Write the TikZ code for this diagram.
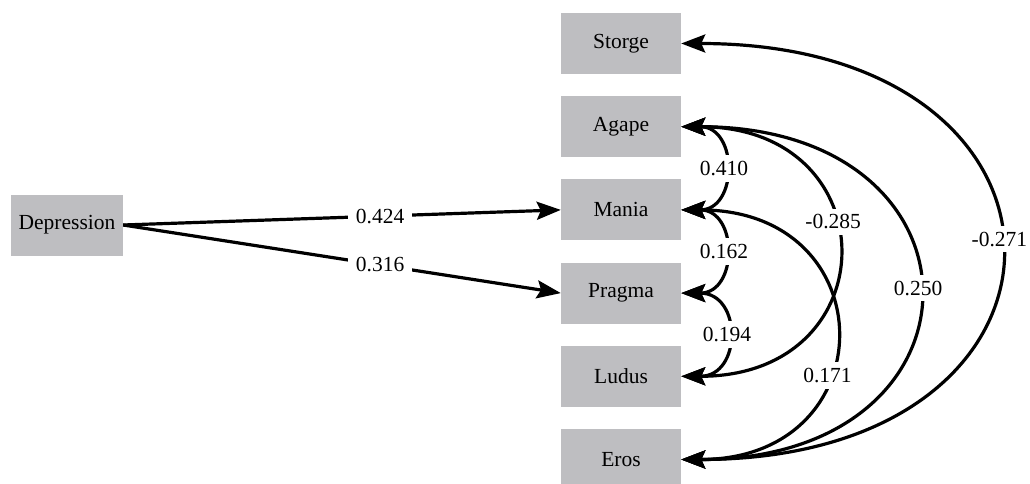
\documentclass[tikz,border=0pt]{standalone}
\usepackage{fontspec}
\setmainfont{Liberation Serif}
\usetikzlibrary{arrows.meta}
\definecolor{boxgray}{RGB}{190,190,193}
\begin{document}
\begin{tikzpicture}[x=1pt,y=-1pt,
  txt/.style={font=\fontsize{21.5}{24}\selectfont},
  box/.style={txt, fill=boxgray, minimum width=120pt, minimum height=61pt, inner sep=0pt},
  lab/.style={txt, fill=white, inner xsep=8pt, inner ysep=6pt},
  tip/.tip={Stealth[length=24pt,width=18pt,inset=4pt]},
  conn/.style={line width=3.2pt, -tip},
  corr/.style={line width=3.2pt, tip-tip},
]
\useasboundingbox (0,0) rectangle (1030,484);
\clip (0,0) rectangle (1030,484);
\fill[white] (0,0) rectangle (1030,484);

\node[box, minimum width=112pt] (dep) at (67,225) {Depression};
\node[box] (sto) at (621,43.5) {Storge};
\node[box] (aga) at (621,126.7) {Agape};
\node[box] (man) at (621,209.9) {Mania};
\node[box] (pra) at (621,293.1) {Pragma};
\node[box] (lud) at (621,376.3) {Ludus};
\node[box] (ero) at (621,459.5) {Eros};

\draw[conn] (dep.east) -- (man.west) coordinate[pos=0.587] (c1);
\draw[conn] (dep.east) -- (pra.west) coordinate[pos=0.587] (c2);

\draw[corr] (sto.east) .. controls +(425,0) and +(425,0) .. (ero.east) coordinate[pos=0.48] (c3);
\draw[corr] (aga.east) .. controls +(316,0) and +(316,0) .. (ero.east) coordinate[pos=0.49] (c4);
\draw[corr] (aga.east) .. controls +(208,0) and +(208,0) .. (lud.east) coordinate[pos=0.42] (c5);
\draw[corr] (man.east) .. controls +(205,0) and +(205,0) .. (ero.east) coordinate[pos=0.61] (c6);
\draw[corr] (aga.east) .. controls +(57,0) and +(57,0) .. (man.east) coordinate[pos=0.5] (c7);
\draw[corr] (man.east) .. controls +(57,0) and +(57,0) .. (pra.east) coordinate[pos=0.5] (c8);
\draw[corr] (pra.east) .. controls +(61,0) and +(61,0) .. (lud.east) coordinate[pos=0.5] (c9);

\node[lab] (l1) at (c1) {0.424};
\node[lab] (l2) at (c2) {0.316};
\node[lab] (l3) at (c3) {-0.271};
\node[lab] (l4) at (c4) {0.250};
\node[lab] (l5) at (c5) {-0.285};
\node[lab] (l6) at (c6) {0.171};
\node[lab] (l7) at (c7) {0.410};
\node[lab] (l8) at (c8) {0.162};
\node[lab] (l9) at (c9) {0.194};
\end{tikzpicture}
\end{document}
